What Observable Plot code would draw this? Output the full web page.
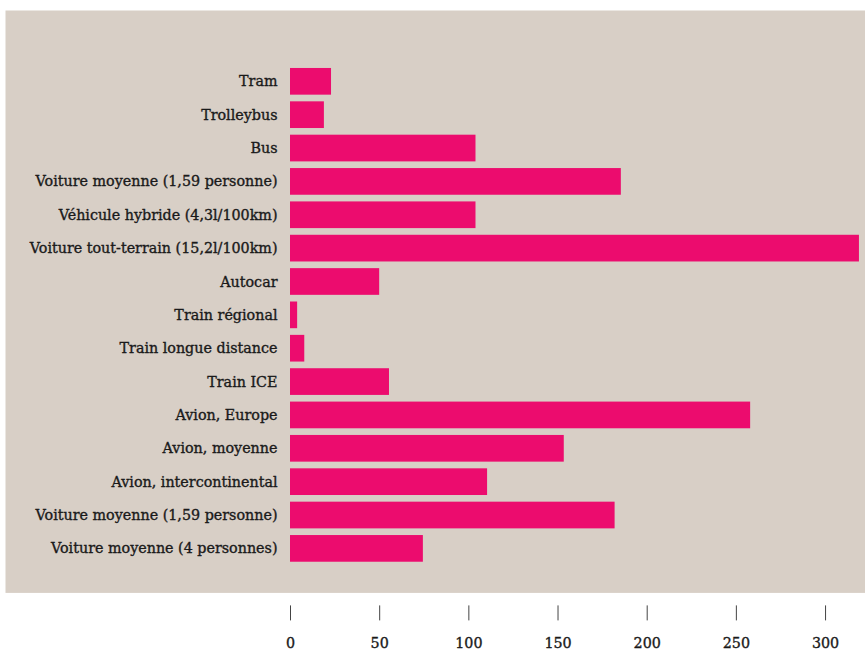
<!DOCTYPE html>
<html>
<head>
<meta charset="utf-8">
<script src="https://cdn.jsdelivr.net/npm/d3@7"></script>
<script src="https://cdn.jsdelivr.net/npm/@observablehq/plot@0.6"></script>
<style>
  body { margin: 0; background: #fff; }
  #chart { position: absolute; left: 0; top: 0; }
  #chart svg text { stroke: #1a1a1a; stroke-width: 0.35px; }
</style>
</head>
<body>
<div id="chart"></div>
<script>
const categories = [
  "Tram",
  "Trolleybus",
  "Bus",
  "Voiture moyenne (1,59 personne)",
  "Véhicule hybride (4,3l/100km)",
  "Voiture tout-terrain (15,2l/100km)",
  "Autocar",
  "Train régional",
  "Train longue distance",
  "Train ICE",
  "Avion, Europe",
  "Avion, moyenne",
  "Avion, intercontinental",
  "Voiture moyenne (1,59 personne)",
  "Voiture moyenne (4 personnes)"
];
const values = [23, 19, 104, 185.5, 104, 319, 50, 4, 8, 55.5, 258, 153.5, 110.5, 182, 74.5];
const xTicks = [0, 50, 100, 150, 200, 250, 300];

const data = categories.map((c, i) => ({i, label: c, value: values[i]}));
const font = "'DejaVu Serif', 'Liberation Serif', serif";

const chart = Plot.plot({
  width: 865,
  height: 650,
  marginLeft: 290,
  marginRight: 0,
  marginTop: 61.3,
  marginBottom: 81.6,
  style: {fontFamily: font, fontSize: "14px", color: "#222", background: "transparent"},
  x: {domain: [0, 322.4], axis: null, label: null},
  y: {domain: data.map(d => d.i), padding: 0.2, round: false, axis: null, label: null},
  marks: [
    Plot.frame({fill: "#d8cfc6", stroke: null, insetLeft: -285, insetRight: 0, insetTop: -51.3, insetBottom: -24}),
    Plot.barX(data, {x: "value", y: "i", fill: "#ec0c6e"}),
    Plot.axisY({
      label: null, tickSize: 0, tickPadding: 13, tickFormat: i => categories[i],
      fontSize: 14.3, fill: "#1a1a1a"
    }),
    Plot.axisX({
      label: null, ticks: xTicks, tickSize: 15, tickPadding: 17, dy: 37,
      fontSize: 14.3, fill: "#1a1a1a", stroke: "#444", strokeWidth: 1
    })
  ]
});
document.getElementById("chart").appendChild(chart);
</script>
</body>
</html>
